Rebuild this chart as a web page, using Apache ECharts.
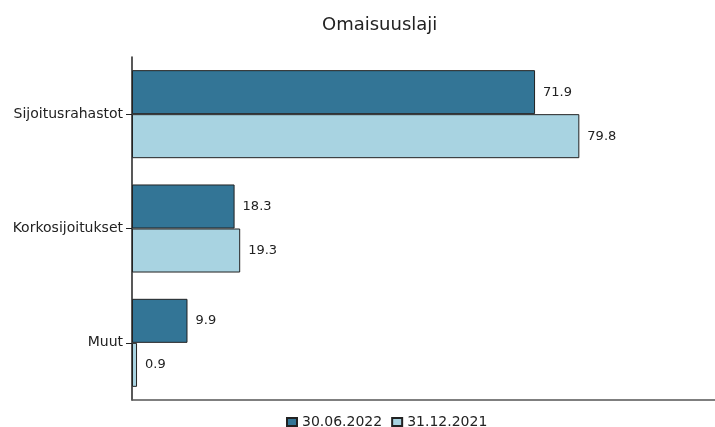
<!DOCTYPE html>
<html>
<head>
<meta charset="utf-8">
<script src="https://cdn.jsdelivr.net/npm/echarts@6/dist/echarts.min.js"></script>
<style>
  html, body { margin: 0; padding: 0; background: #fff; }
  #chart { width: 715px; height: 427px; }
</style>
</head>
<body>
<div id="chart"></div>
<script>
  // data
  var categories = ['Sijoitusrahastot', 'Korkosijoitukset', 'Muut'];
  var seriesNames = ['30.06.2022', '31.12.2021'];
  var values2022 = [71.9, 18.3, 9.9];
  var values2021 = [79.8, 19.3, 0.9];

  var myChart = echarts.init(document.getElementById('chart'));
  var font = 'DejaVu Sans, sans-serif';

  function barLabel() {
    return {
      show: true,
      position: 'right',
      distance: 8,
      color: '#222',
      fontSize: 13,
      fontFamily: font,
      formatter: function (p) { return p.value.toFixed(1); }
    };
  }

  var option = {
    animation: false,
    title: {
      text: 'Omaisuuslaji',
      left: 317,
      top: 11,
      textStyle: { color: '#222', fontSize: 18, fontWeight: 'normal', fontFamily: font }
    },
    legend: {
      data: seriesNames,
      top: 410,
      left: 281,
      icon: 'rect',
      itemWidth: 10,
      itemHeight: 8,
      itemGap: 9,
      textStyle: { color: '#222', fontSize: 14, fontFamily: font }
    },
    grid: { left: 132, right: 0, top: 57, bottom: 27 },
    xAxis: {
      type: 'value',
      min: 0,
      max: 104,
      axisLine: { show: true, lineStyle: { color: '#555', width: 1.5 } },
      axisTick: { show: false },
      axisLabel: { show: false },
      splitLine: { show: false }
    },
    yAxis: {
      type: 'category',
      inverse: true,
      data: categories,
      axisLine: { show: true, lineStyle: { color: '#222', width: 1.5 } },
      axisTick: { show: true, alignWithLabel: true, length: 6, lineStyle: { color: '#222' } },
      axisLabel: { color: '#222', fontSize: 14, fontFamily: font, margin: 9 }
    },
    series: [
      {
        name: seriesNames[0],
        type: 'bar',
        data: values2022,
        barGap: '0%',
        barCategoryGap: '23%',
        itemStyle: { color: '#337596', borderColor: '#222', borderWidth: 1 },
        label: barLabel()
      },
      {
        name: seriesNames[1],
        type: 'bar',
        data: values2021,
        itemStyle: { color: '#a8d3e1', borderColor: '#222', borderWidth: 1 },
        label: barLabel()
      }
    ]
  };

  myChart.setOption(option, true);
</script>
</body>
</html>
